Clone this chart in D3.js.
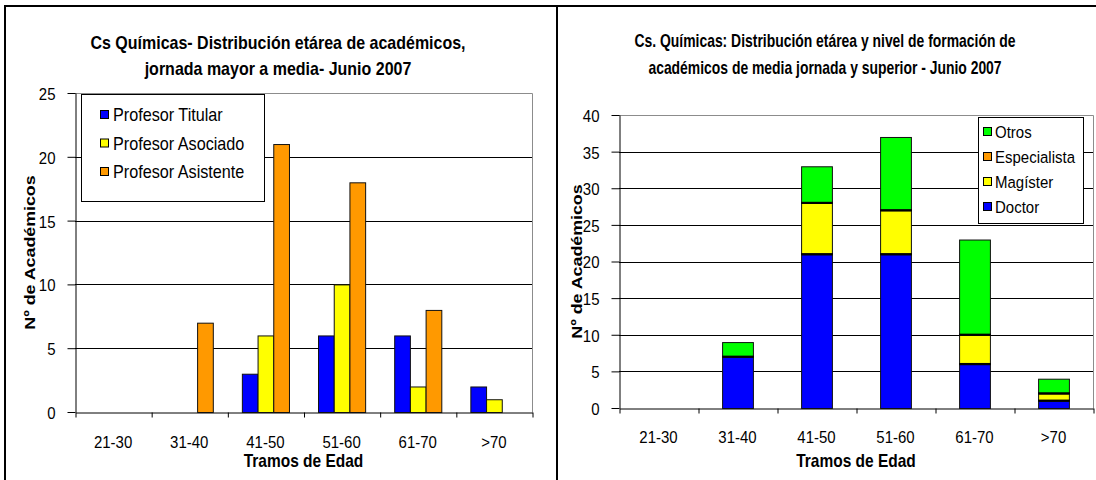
<!DOCTYPE html>
<html><head><meta charset="utf-8">
<script src="https://cdn.jsdelivr.net/npm/d3@7/dist/d3.min.js"></script>
<style>
html,body{margin:0;padding:0;background:#fff;}
text{font-family:"Liberation Sans",Arial,sans-serif;fill:#000;}
</style></head>
<body>
<svg id="c" width="1096" height="480"></svg>
<script>
// ---- data ----
const categories = ["21-30","31-40","41-50","51-60","61-70",">70"];
// left chart (grouped)
const leftSeries = ["Profesor Titular","Profesor Asociado","Profesor Asistente"];
const titular    = [0,0,3,6,6,2];
const asociado   = [0,0,6,10,2,1];
const asistente  = [0,7,21,18,8,0];
const leftTicks  = [0,5,10,15,20,25];
// right chart (stacked)
const rightSeries   = ["Doctor","Magíster","Especialista","Otros"];
const doctor        = [0,7,21,21,6,1];
const magister      = [0,0,7,6,4,1];
const especialista  = [0,0,0,0,0,0];
const otros         = [0,2,5,10,13,2];
const rightTicks    = [0,5,10,15,20,25,30,35,40];

const leftTitle  = ["Cs Químicas- Distribución etárea de académicos,","jornada mayor a media- Junio 2007"];
const rightTitle = ["Cs. Químicas: Distribución etárea y nivel de formación de","académicos de media jornada y superior - Junio 2007"];
const xTitle = "Tramos de Edad";
const yTitle = "Nº de Académicos";

const colors = {"Profesor Titular":"#0000FF","Profesor Asociado":"#FFFF00","Profesor Asistente":"#FF9900",
  "Doctor":"#0000FF","Magíster":"#FFFF00","Especialista":"#FF9900","Otros":"#00FF00"};

const K = 1.15; // vertical stretch of glyphs
const svg = d3.select("#c");

function txt(parent, x, y, s, o={}) {
  const g = parent.append("g").attr("transform",
    `translate(${x},${y}) scale(${o.sx||1},${o.k||K})` + (o.rotate ? " rotate(-90)" : ""));
  g.append("text").attr("text-anchor", o.anchor||"middle")
    .attr("dominant-baseline","central")
    .style("font-size",(o.size||14)+"px")
    .style("font-weight",o.bold?"bold":"normal")
    .text(s);
  return g;
}

// frame
svg.append("line").attr("x1",5).attr("x2",1096).attr("y1",6).attr("y2",6).attr("stroke","#000").attr("stroke-width",2);
svg.append("line").attr("x1",5).attr("x2",5).attr("y1",5).attr("y2",480).attr("stroke","#000").attr("stroke-width",2);
svg.append("line").attr("x1",557).attr("x2",557).attr("y1",5).attr("y2",480).attr("stroke","#000").attr("stroke-width",2);

function frameAxes(g, x, y, ticks, x0, x1, y0, y1, labelY, tickFs) {
  // gridlines
  g.append("g").selectAll("line").data(ticks.slice(1,-1)).join("line")
    .attr("x1",x0).attr("x2",x1).attr("y1",d=>Math.round(y(d))+0.5).attr("y2",d=>Math.round(y(d))+0.5)
    .attr("stroke","#000").attr("stroke-width",1);
  // plot border top/right (gray)
  g.append("path").attr("d",`M${x0},${y1+0.5}H${x1+0.5}V${y0}`).attr("fill","none").attr("stroke","#8c8c8c").attr("stroke-width",1);
  // y axis
  const ya = g.append("g").attr("transform",`translate(${x0+0.5},0)`)
    .call(d3.axisLeft(y).tickValues(ticks).tickSize(8).tickPadding(12).tickSizeOuter(0));
  ya.select(".domain").attr("stroke","#000");
  ya.selectAll(".tick line").attr("stroke","#000");
  ya.selectAll(".tick text").attr("dy",null).attr("dominant-baseline","central")
    .attr("transform",`scale(1,${K})`).style("font-size",tickFs+"px").style("font-family","Liberation Sans, Arial");
  // boundary ticks
  const xl = d3.scaleLinear().domain([0,categories.length]).range([x0,x1]);
  const xb = g.append("g").attr("transform",`translate(0.5,${y0+0.5})`)
    .call(d3.axisBottom(xl).ticks(categories.length).tickFormat("").tickSize(5).tickSizeOuter(0));
  xb.selectAll("line,path").attr("stroke","#000");
  // category labels
  const xa = g.append("g").attr("transform",`translate(0,${labelY})`)
    .call(d3.axisBottom(x).tickSize(0).tickPadding(0));
  xa.select(".domain").remove();
  xa.selectAll(".tick text").attr("y",0).attr("dy",null).attr("dominant-baseline","central")
    .attr("transform",`scale(1,${K})`).style("font-size",tickFs+"px").style("font-family","Liberation Sans, Arial");
}

// ================= LEFT CHART =================
{
  const x0=75, x1=532, y0=412, y1=93;
  const g = svg.append("g");
  const x = d3.scaleBand().domain(categories).range([x0,x1]).paddingInner(0).paddingOuter(0);
  const y = d3.scaleLinear().domain([0,25]).range([y0,y1]);
  frameAxes(g, x, y, leftTicks, x0, x1, y0, y1, 442, 15);
  const vals = [titular, asociado, asistente];
  const bw = x.bandwidth()/4.85;
  const bars = [];
  leftSeries.forEach((s,si)=>categories.forEach((c,ci)=>{
    if (vals[si][ci] > 0) bars.push({s, c, si, v: vals[si][ci]});
  }));
  g.append("g").selectAll("rect").data(bars).join("rect")
    .attr("x",d=>x(d.c)+x.bandwidth()/2 - 1.5*bw + d.si*bw + 0.5)
    .attr("width",bw)
    .attr("y",d=>y(d.v)+0.5)
    .attr("height",d=>y0-y(d.v))
    .attr("fill",d=>colors[d.s]).attr("stroke","#111").attr("stroke-width",1);
  // title
  leftTitle.forEach((t,i)=>txt(svg, 278, 43+i*26, t, {size:16, bold:true}));
  txt(svg, (x0+x1)/2, 461, xTitle, {size:15.5, bold:true});
  txt(svg, 30, (y0+y1)/2, yTitle, {size:15.5, bold:true, rotate:true});
  // legend
  const lg = svg.append("g");
  lg.append("rect").attr("x",81.5).attr("y",94.5).attr("width",183).attr("height",107)
    .attr("fill","#fff").attr("stroke","#000");
  leftSeries.forEach((s,i)=>{
    const cy = 115 + i*28.5;
    lg.append("rect").attr("x",100.5).attr("y",cy-4.5).attr("width",8).attr("height",8)
      .attr("fill",colors[s]).attr("stroke","#000");
    txt(lg, 113, cy, s, {size:16.2, anchor:"start"});
  });
}

// ================= RIGHT CHART =================
{
  const x0=619, x1=1093, y0=408, y1=115;
  const g = svg.append("g");
  const x = d3.scaleBand().domain(categories).range([x0,x1]);
  const y = d3.scaleLinear().domain([0,40]).range([y0,y1]);
  frameAxes(g, x, y, rightTicks, x0, x1, y0, y1, 437, 15);
  const table = categories.map((c,i)=>({c, "Doctor":doctor[i], "Magíster":magister[i], "Especialista":especialista[i], "Otros":otros[i]}));
  const stack = d3.stack().keys(rightSeries)(table);
  const bw = x.bandwidth()*0.39;
  const segs = [];
  stack.forEach(layer=>layer.forEach(d=>{
    if (d[1]-d[0] > 0) segs.push({s:layer.key, c:d.data.c, y0:d[0], y1:d[1]});
  }));
  g.append("g").selectAll("rect").data(segs).join("rect")
    .attr("x",d=>x(d.c)+(x.bandwidth()-bw)/2+0.5)
    .attr("width",bw)
    .attr("y",d=>y(d.y1)+0.5)
    .attr("height",d=>y(d.y0)-y(d.y1))
    .attr("fill",d=>colors[d.s]).attr("stroke","#111").attr("stroke-width",1);
  // internal separators
  const seps = [];
  categories.forEach((c,i)=>{
    const tot = doctor[i]+magister[i]+especialista[i]+otros[i];
    let acc = 0;
    [doctor,magister,especialista].forEach(arr=>{ acc += arr[i]; if (acc>0 && acc<tot && !seps.find(s=>s.c===c&&s.v===acc)) seps.push({c, v:acc}); });
  });
  g.append("g").selectAll("line").data(seps).join("line")
    .attr("x1",d=>x(d.c)+(x.bandwidth()-bw)/2).attr("x2",d=>x(d.c)+(x.bandwidth()+bw)/2+1)
    .attr("y1",d=>y(d.v)).attr("y2",d=>y(d.v))
    .attr("stroke","#000").attr("stroke-width",2.2);
  rightTitle.forEach((t,i)=>txt(svg, 825, 40+i*27, t, {size:16, bold:true, sx:0.87}));
  txt(svg, (x0+x1)/2, 461, xTitle, {size:15.5, bold:true});
  txt(svg, 577, (y0+y1)/2, yTitle, {size:15.5, bold:true, rotate:true});
  const lg = svg.append("g");
  lg.append("rect").attr("x",978.5).attr("y",117.5).attr("width",105).attr("height",106)
    .attr("fill","#fff").attr("stroke","#000");
  rightSeries.slice().reverse().forEach((s,i)=>{
    const cy = 132 + i*25;
    lg.append("rect").attr("x",983.5).attr("y",cy-4.5).attr("width",8).attr("height",8)
      .attr("fill",colors[s]).attr("stroke","#000");
    txt(lg, 995, cy, s, {size:15, anchor:"start"});
  });
}
</script>
</body></html>
